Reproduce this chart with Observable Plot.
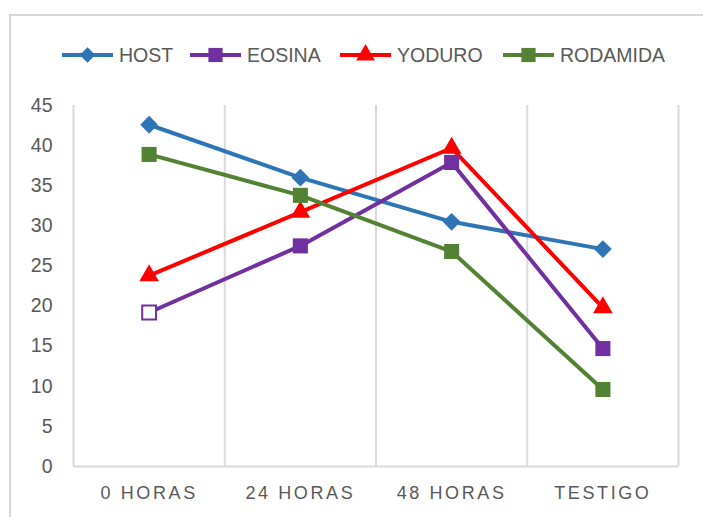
<!DOCTYPE html>
<html>
<head>
<meta charset="utf-8">
<script src="https://cdn.jsdelivr.net/npm/d3@7"></script>
<script src="https://cdn.jsdelivr.net/npm/@observablehq/plot@0.6"></script>
<style>
  html, body { margin: 0; padding: 0; background: #fff; }
  body { width: 703px; height: 517px; position: relative; overflow: hidden; font-family: "Liberation Sans", Arial, sans-serif; }
  #frame { position: absolute; left: 9px; top: 14px; width: 720px; height: 540px; border: 2px solid #d9d9d9; box-sizing: border-box; }
  #legend { position: absolute; left: 0; top: 0; width: 703px; height: 90px; }
  #chart { position: absolute; left: 0; top: 90px; }
  #chart [aria-label="x-axis tick label"] text { letter-spacing: 2.6px; }
  #chart [aria-label="y-axis tick label"] text { font-size: 19.5px; }
</style>
</head>
<body>
<div id="frame"></div>
<div id="legend"></div>
<div id="chart"></div>
<script>
const categories = ["0 HORAS", "24 HORAS", "48 HORAS", "TESTIGO"];
const seriesNames = ["HOST", "EOSINA", "YODURO", "RODAMIDA"];
const seriesColors = ["#2E75B6", "#7030A0", "#FF0000", "#548235"];
const seriesSymbols = ["diamond2", "square", "triangle", "square"];
const host = [42.6, 36.0, 30.5, 27.1];
const eosina = [19.2, 27.5, 37.9, 14.7];
const yoduro = [23.8, 31.7, 39.7, 19.8];
const rodamida = [38.9, 33.8, 26.8, 9.6];
const yTicks = [0, 5, 10, 15, 20, 25, 30, 35, 40, 45];

const allValues = [host, eosina, yoduro, rodamida];
const data = [];
allValues.forEach((vals, s) => vals.forEach((v, i) => data.push({series: seriesNames[s], s, i, value: v})));

const symR = {diamond2: 8, square: 8.5, triangle: 7.3};

const marks = [
  Plot.ruleX([0.5, 1.5, 2.5, 3.5], {stroke: "#d9d9d9", strokeWidth: 2}),
  Plot.ruleX([-0.5], {stroke: "#d9d9d9", strokeWidth: 2}),
  Plot.ruleY([0], {stroke: "#d9d9d9", strokeWidth: 2}),
  Plot.axisY({ticks: yTicks, tickSize: 0, tickPadding: 21, tickFormat: d => String(d), fill: "#595959", label: null}),
  Plot.axisX({ticks: [0, 1, 2, 3], tickSize: 0, tickPadding: 20, tickFormat: i => categories[i], fill: "#595959", label: null})
];
seriesNames.forEach((name, s) => {
  const d = data.filter(r => r.s === s);
  marks.push(Plot.line(d, {x: "i", y: "value", stroke: seriesColors[s], strokeWidth: 4}));
});
seriesNames.forEach((name, s) => {
  const d = data.filter(r => r.s === s);
  const sym = seriesSymbols[s];
  if (name === "EOSINA") {
    marks.push(Plot.dot(d.filter(r => r.i === 0), {x: "i", y: "value", symbol: "square", r: 7.8, fill: "white", stroke: seriesColors[s], strokeWidth: 2}));
    marks.push(Plot.dot(d.filter(r => r.i !== 0), {x: "i", y: "value", symbol: sym, r: symR[sym], fill: seriesColors[s], stroke: "none"}));
  } else {
    marks.push(Plot.dot(d, {x: "i", y: "value", symbol: sym, r: symR[sym], fill: seriesColors[s], stroke: "none"}));
  }
});

const chart = Plot.plot({
  width: 703,
  height: 427,
  marginTop: 15,
  marginBottom: 51,
  marginLeft: 73,
  marginRight: 25,
  style: {fontFamily: "Liberation Sans, Arial, sans-serif", fontSize: "18px", background: "transparent", overflow: "visible"},
  x: {type: "linear", domain: [-0.5, 3.5], label: null},
  y: {domain: [0, 45], label: null},
  marks
});
document.getElementById("chart").appendChild(chart);

// Legend
const legendX = [62, 190, 340, 503];
const lsvg = d3.select("#legend").append("svg").attr("width", 703).attr("height", 90);
seriesNames.forEach((name, s) => {
  const x0 = legendX[s], y0 = 55;
  const g = lsvg.append("g");
  g.append("line").attr("x1", x0).attr("x2", x0 + 51).attr("y1", y0).attr("y2", y0)
    .attr("stroke", seriesColors[s]).attr("stroke-width", 4);
  const sym = seriesSymbols[s];
  const typ = sym === "diamond2" ? d3.symbolDiamond2 : sym === "triangle" ? d3.symbolTriangle : d3.symbolSquare;
  const r = sym === "diamond2" ? 7 : sym === "triangle" ? 7 : 8;
  g.append("path").attr("d", d3.symbol(typ, Math.PI * r * r)()).attr("transform", `translate(${x0 + 25.5},${y0})`)
    .attr("fill", seriesColors[s]);
  g.append("text").attr("x", x0 + 57).attr("y", y0).attr("dy", "0.36em")
    .attr("font-size", 19.5).attr("fill", "#595959").attr("font-family", "Liberation Sans, Arial, sans-serif")
    .text(name);
});
</script>
</body>
</html>
